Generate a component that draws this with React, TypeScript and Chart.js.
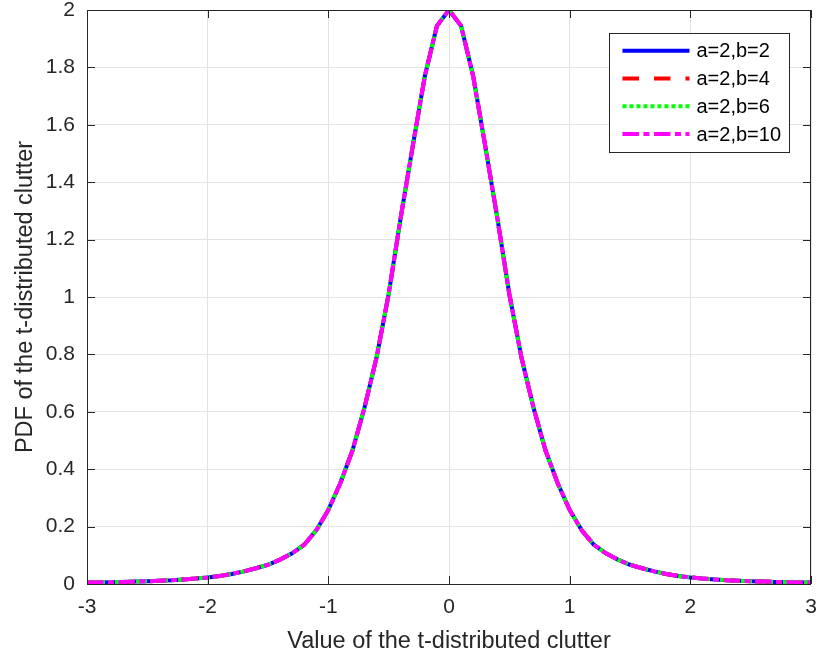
import React, { useEffect, useRef } from "react";
import { Chart, registerables } from "chart.js";

Chart.register(...registerables);

// ---------- data ----------
const X_VALUES = [
  -3.0, -2.9, -2.8, -2.7, -2.6, -2.5, -2.4, -2.3, -2.2, -2.1,
  -2.0, -1.9, -1.8, -1.7, -1.6, -1.5, -1.4, -1.3, -1.2, -1.1,
  -1.0, -0.9, -0.8, -0.7, -0.6, -0.5, -0.4, -0.3, -0.2, -0.1,
  0.0,
  0.1, 0.2, 0.3, 0.4, 0.5, 0.6, 0.7, 0.8, 0.9, 1.0,
  1.1, 1.2, 1.3, 1.4, 1.5, 1.6, 1.7, 1.8, 1.9, 2.0,
  2.1, 2.2, 2.3, 2.4, 2.5, 2.6, 2.7, 2.8, 2.9, 3.0,
];

// PDF values (all four curves coincide in the reference)
const PDF_A2_B2 = [
  0.005, 0.0056, 0.0063, 0.0072, 0.0083, 0.0095, 0.011, 0.013, 0.016, 0.019,
  0.023, 0.028, 0.035, 0.044, 0.055, 0.067, 0.085, 0.107, 0.137, 0.187,
  0.258, 0.352, 0.465, 0.615, 0.79, 1.01, 1.277, 1.527, 1.77, 1.945,
  2.0,
  1.945, 1.77, 1.527, 1.277, 1.01, 0.79, 0.615, 0.465, 0.352, 0.258,
  0.187, 0.137, 0.107, 0.085, 0.067, 0.055, 0.044, 0.035, 0.028, 0.023,
  0.019, 0.016, 0.013, 0.011, 0.0095, 0.0083, 0.0072, 0.0063, 0.0056, 0.005,
];
const PDF_A2_B4 = PDF_A2_B2;
const PDF_A2_B6 = PDF_A2_B2;
const PDF_A2_B10 = PDF_A2_B2;

const SERIES_LABELS = ["a=2,b=2", "a=2,b=4", "a=2,b=6", "a=2,b=10"];
const SERIES_VALUES = [PDF_A2_B2, PDF_A2_B4, PDF_A2_B6, PDF_A2_B10];
const SERIES_COLORS = ["#0000FF", "#FF0000", "#00FF00", "#FF00FF"];
const SERIES_DASHES: number[][] = [[], [16.5, 15], [4, 3], [16.5, 4.5, 6, 4.5]];

const X_TICKS = [-3, -2, -1, 0, 1, 2, 3];
const X_TICK_LABELS = ["-3", "-2", "-1", "0", "1", "2", "3"];
const Y_TICKS = [0, 0.2, 0.4, 0.6, 0.8, 1, 1.2, 1.4, 1.6, 1.8, 2];
const Y_TICK_LABELS = ["0", "0.2", "0.4", "0.6", "0.8", "1", "1.2", "1.4", "1.6", "1.8", "2"];

const X_TITLE = "Value of the t-distributed clutter";
const Y_TITLE = "PDF of the t-distributed clutter";

// ---------- style ----------
const FONT = "'Liberation Sans', Arial, Helvetica, sans-serif";
const TEXT_COLOR = "#262626";
const GRID_COLOR = "#e3e3e3";

const framePlugin = {
  id: "matlabFrame",
  afterDatasetsDraw(chart: any) {
    const { ctx, chartArea, scales } = chart;
    const { left, right, top, bottom } = chartArea;
    const xs = scales.x;
    const ys = scales.y;
    const TL = 8;
    ctx.save();
    ctx.strokeStyle = TEXT_COLOR;
    ctx.lineWidth = 1;
    ctx.setLineDash([]);
    ctx.beginPath();
    X_TICKS.forEach((v) => {
      const px = Math.round(xs.getPixelForValue(v)) + 0.5;
      ctx.moveTo(px, bottom);
      ctx.lineTo(px, bottom - TL);
      ctx.moveTo(px, top);
      ctx.lineTo(px, top + TL);
    });
    Y_TICKS.forEach((v) => {
      const py = Math.round(ys.getPixelForValue(v)) + 0.5;
      ctx.moveTo(left, py);
      ctx.lineTo(left + TL, py);
      ctx.moveTo(right, py);
      ctx.lineTo(right - TL, py);
    });
    ctx.stroke();
    ctx.strokeRect(Math.round(left) + 0.5, Math.round(top) + 0.5, Math.round(right - left) - 1, Math.round(bottom - top));
    ctx.restore();
  },
};

const legendPlugin = {
  id: "matlabLegend",
  afterDraw(chart: any) {
    const { ctx, chartArea } = chart;
    const datasets = chart.data.datasets;
    ctx.save();
    ctx.font = `20px ${FONT}`;
    const textW = Math.max(...datasets.map((d: any) => ctx.measureText(d.label).width));
    const lineLen = 67;
    const padL = 13;
    const gap = 7;
    const padR = 8;
    const rowH = 27.8;
    const edge = 17.7;
    const w = padL + lineLen + gap + textW + padR;
    const h = edge * 2 + rowH * (datasets.length - 1);
    const boxRight = chartArea.right - 22;
    const boxTop = chartArea.top + 23;
    const boxLeft = boxRight - w;
    ctx.fillStyle = "#ffffff";
    ctx.fillRect(boxLeft, boxTop, w, h);
    ctx.strokeStyle = TEXT_COLOR;
    ctx.lineWidth = 1;
    ctx.strokeRect(Math.round(boxLeft) + 0.5, Math.round(boxTop) + 0.5, Math.round(w), Math.round(h));
    datasets.forEach((d: any, i: number) => {
      const y = boxTop + edge + i * rowH;
      ctx.save();
      ctx.strokeStyle = d.borderColor;
      ctx.lineWidth = d.borderWidth;
      ctx.lineCap = "butt";
      ctx.setLineDash(d.borderDash || []);
      ctx.beginPath();
      ctx.moveTo(boxLeft + padL, y);
      ctx.lineTo(boxLeft + padL + lineLen, y);
      ctx.stroke();
      ctx.restore();
      ctx.fillStyle = "#000000";
      ctx.textBaseline = "middle";
      ctx.textAlign = "left";
      ctx.fillText(d.label, boxLeft + padL + lineLen + gap, y + 1);
    });
    ctx.restore();
  },
};

export default function App() {
  const canvasRef = useRef<HTMLCanvasElement | null>(null);

  useEffect(() => {
    const canvas = canvasRef.current;
    if (!canvas) return;
    const datasets = SERIES_LABELS.map((label, i) => ({
      label,
      data: X_VALUES.map((x, j) => ({ x, y: SERIES_VALUES[i][j] })),
      borderColor: SERIES_COLORS[i],
      backgroundColor: SERIES_COLORS[i],
      borderWidth: 4,
      borderDash: SERIES_DASHES[i],
      pointRadius: 0,
      tension: 0,
      fill: false,
      order: SERIES_LABELS.length - i,
    }));

    const chart = new Chart(canvas, {
      type: "line",
      data: { datasets },
      options: {
        responsive: false,
        animation: false,
        devicePixelRatio: 1,
        layout: { padding: { top: 10, right: 7, left: 0, bottom: 0 } },
        plugins: {
          legend: { display: false },
          tooltip: { enabled: false },
        },
        scales: {
          x: {
            type: "linear",
            min: -3,
            max: 3,
            afterBuildTicks: (scale: any) => {
              scale.ticks = X_TICKS.map((v) => ({ value: v }));
            },
            afterFit: (scale: any) => {
              scale.height = 75;
              scale.paddingLeft = 0;
              scale.paddingRight = 0;
            },
            ticks: {
              autoSkip: false,
              maxRotation: 0,
              padding: 13,
              color: TEXT_COLOR,
              font: { family: FONT, size: 21, lineHeight: 1 },
              callback: (value: any) => X_TICK_LABELS[X_TICKS.indexOf(Number(value))],
            },
            grid: { color: GRID_COLOR, drawTicks: false, lineWidth: 1 },
            border: { display: false },
            title: {
              display: true,
              text: X_TITLE,
              color: TEXT_COLOR,
              font: { family: FONT, size: 23.5, lineHeight: 1 },
              padding: { top: 0, bottom: 6 },
            },
          },
          y: {
            type: "linear",
            min: 0,
            max: 2,
            afterBuildTicks: (scale: any) => {
              scale.ticks = Y_TICKS.map((v) => ({ value: v }));
            },
            afterFit: (scale: any) => {
              scale.width = 87;
              scale.paddingTop = 0;
              scale.paddingBottom = 0;
            },
            ticks: {
              autoSkip: false,
              padding: 12,
              color: TEXT_COLOR,
              font: { family: FONT, size: 21, lineHeight: 0.9 },
              callback: (value: any) => Y_TICK_LABELS[Y_TICKS.findIndex((t) => Math.abs(t - Number(value)) < 1e-9)],
            },
            grid: { color: GRID_COLOR, drawTicks: false, lineWidth: 1 },
            border: { display: false },
            title: {
              display: true,
              text: Y_TITLE,
              color: TEXT_COLOR,
              font: { family: FONT, size: 23.5, lineHeight: 1 },
              padding: { top: 14, bottom: 0 },
            },
          },
        },
      },
      plugins: [framePlugin, legendPlugin],
    });

    return () => chart.destroy();
  }, []);

  return (
    <div style={{ position: "fixed", left: 0, top: 0, width: 818, height: 659, background: "#ffffff" }}>
      <canvas ref={canvasRef} width={818} height={659} style={{ display: "block", width: 818, height: 659 }} />
    </div>
  );
}
